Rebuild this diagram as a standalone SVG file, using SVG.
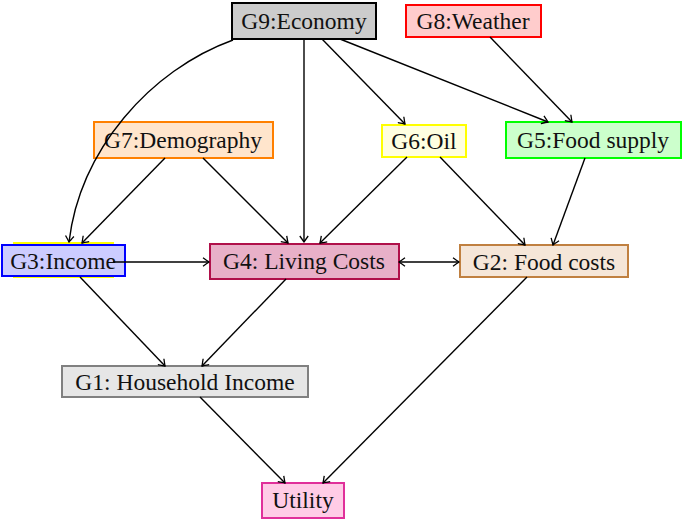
<svg xmlns="http://www.w3.org/2000/svg" width="683" height="521" viewBox="0 0 683 521">
<style>
text{font-family:"Liberation Serif","DejaVu Serif",serif;font-size:23.5px;fill:#111;text-anchor:middle;dominant-baseline:central}
.n rect{stroke-width:2}
.e path{fill:none;stroke:#000;stroke-width:1.4}
</style>
<defs>
<marker id="ah" viewBox="-7 -5 8 10" refX="0" refY="0" markerWidth="8" markerHeight="10" markerUnits="userSpaceOnUse" orient="auto-start-reverse">
<path d="M-6,-4.2 Q-1.5,-1 0,0 Q-1.5,1 -6,4.2" fill="none" stroke="#000" stroke-width="1.3"/>
</marker>
</defs>
<rect width="683" height="521" fill="#fff"/>
<g class="n" id="G9"><rect x="232" y="3" width="144" height="36" fill="#cccccc" stroke="#000"/><text x="304" y="21">G9:Economy</text></g>
<g class="n" id="G8"><rect x="406" y="5" width="135" height="32" fill="#ffcccc" stroke="#ff0000"/><text x="473" y="21">G8:Weather</text></g>
<g class="n" id="G7"><rect x="94" y="122" width="179" height="36" fill="#ffe5cc" stroke="#ff8000"/><text x="183" y="140">G7:Demography</text></g>
<g class="n" id="G6"><rect x="382" y="125" width="84" height="32" fill="#ffffe0" stroke="#ffff00"/><text x="424" y="141">G6:Oil</text></g>
<g class="n" id="G5"><rect x="506" y="122" width="175" height="36" fill="#ccffcc" stroke="#00ff00"/><text x="593" y="140">G5:Food supply</text></g>
<g class="n" id="G3"><rect x="14" y="243" width="99" height="34" fill="#ffffe0" stroke="#ffff00"/><rect x="2" y="245" width="123" height="31" fill="#ccccff" stroke="#0000ff"/><text x="63" y="261">G3:Income</text></g>
<g class="n" id="G4"><rect x="210" y="244" width="189" height="35" fill="#e8b0c8" stroke="#b0104a"/><text x="304" y="261">G4: Living Costs</text></g>
<g class="n" id="G2"><rect x="460" y="245" width="168" height="32" fill="#f5e6d8" stroke="#c08040"/><text x="544" y="262">G2: Food costs</text></g>
<g class="n" id="G1"><rect x="62" y="366" width="246" height="31" fill="#e6e6e6" stroke="#808080"/><text x="185" y="382">G1: Household Income</text></g>
<g class="n" id="Utility"><rect x="262" y="483" width="82" height="35" fill="#ffcce6" stroke="#e0309a"/><text x="303" y="500">Utility</text></g>
<g class="e" id="edges">
<path d="M233,40 C150,70 80,150 69,242" marker-end="url(#ah)"/>
<path d="M304,39 L304,242" marker-end="url(#ah)"/>
<path d="M322,39 L405,124" marker-end="url(#ah)"/>
<path d="M340,39 L548,122" marker-end="url(#ah)"/>
<path d="M490,37 L572,122" marker-end="url(#ah)"/>
<path d="M165,158 L82,243" marker-end="url(#ah)"/>
<path d="M203,158 L288,243" marker-end="url(#ah)"/>
<path d="M407,157 L320,243" marker-end="url(#ah)"/>
<path d="M440,157 L525,245" marker-end="url(#ah)"/>
<path d="M585,158 L553,245" marker-end="url(#ah)"/>
<path d="M113,262 L209,262" marker-end="url(#ah)"/>
<path d="M399,262 L459,262" marker-start="url(#ah)" marker-end="url(#ah)"/>
<path d="M80,277 L165,366" marker-end="url(#ah)"/>
<path d="M286,279 L202,366" marker-end="url(#ah)"/>
<path d="M200,397 L285,483" marker-end="url(#ah)"/>
<path d="M527,277 L323,483" marker-end="url(#ah)"/>
</g>
</svg>
